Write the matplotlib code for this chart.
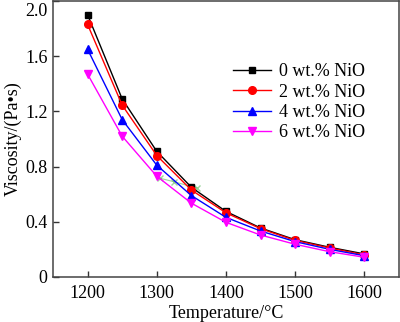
import matplotlib
matplotlib.use('Agg')
import matplotlib.pyplot as plt
import matplotlib.transforms as mtransforms

plt.rcParams['font.family'] = ['Liberation Serif', 'DejaVu Serif']

temps = [1200, 1250, 1300, 1350, 1400, 1450, 1500, 1550, 1600]
visc_0 = [1.90, 1.29, 0.91, 0.65, 0.475, 0.355, 0.27, 0.215, 0.167]
visc_2 = [1.83, 1.245, 0.88, 0.63, 0.465, 0.35, 0.265, 0.21, 0.16]
visc_4 = [1.65, 1.14, 0.81, 0.59, 0.432, 0.333, 0.256, 0.20, 0.154]
visc_6 = [1.47, 1.02, 0.73, 0.535, 0.396, 0.304, 0.237, 0.183, 0.143]

# stray trace left over in the middle of the plot
stray_t = [1305, 1325, 1358]
stray_v = [0.715, 0.69, 0.645]

labels = ['0 wt.% NiO', '2 wt.% NiO', '4 wt.% NiO', '6 wt.% NiO']
fs = 13

fig = plt.figure(figsize=(4.0, 3.22), dpi=100)
ax = fig.add_axes([0.1325, 0.1398, 0.865, 0.857])

ax.plot(stray_t, stray_v, color='#5cb85c', lw=0.8, marker='x', ms=4, alpha=0.6)
ax.plot(temps, visc_0, color='black', marker='s', ms=5, lw=1.0, label=labels[0])
ax.plot(temps, visc_2, color='red', marker='o', ms=5.5, lw=1.0, label=labels[1])
ax.plot(temps, visc_4, color='blue', marker='^', ms=6, lw=1.0, label=labels[2])
ax.plot(temps, visc_6, color='magenta', marker='v', ms=6, lw=1.0, label=labels[3])

ax.set_xlim(1150, 1650)
ax.set_ylim(0, 2.0)
ax.set_xticks([1200, 1300, 1400, 1500, 1600])
ax.set_yticks([0, 0.4, 0.8, 1.2, 1.6, 2.0])
ax.set_yticklabels(['0', '0.4', '0.8', '1.2', '1.6', '2.0'])
ax.tick_params(direction='in', length=4, width=1, labelsize=fs, color='#333333')
ax.tick_params(axis='x', pad=6)
ax.tick_params(axis='y', pad=4)
for s in ax.spines.values():
    s.set_color('#444444')
    s.set_linewidth(1.1)

# keep the top tick label inside the figure
top = ax.get_yticklabels()[-1]
top.set_transform(top.get_transform() +
                  mtransforms.ScaledTranslation(0, -6 / 72, fig.dpi_scale_trans))

ax.set_xlabel('Temperature/°C', fontsize=fs, labelpad=2)
ax.set_ylabel('Viscosity/(Pa•s)', fontsize=fs, labelpad=2)

ax.legend(loc='upper left', bbox_to_anchor=(0.5, 0.8), frameon=False,
          fontsize=fs, handlelength=2.1, handletextpad=0.45, labelspacing=0.18,
          borderaxespad=0)

fig.savefig('out.png', dpi=100)
